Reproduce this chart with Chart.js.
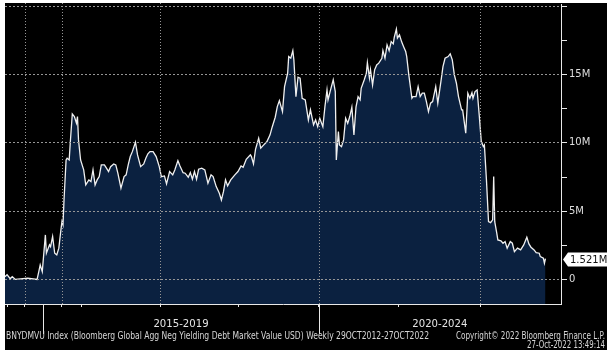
<!DOCTYPE html>
<html>
<head>
<meta charset="utf-8">
<script src="https://cdn.jsdelivr.net/npm/chart.js@4/dist/chart.umd.min.js"></script>
<style>
html,body{margin:0;padding:0;background:#fff;}
canvas{display:block;}
</style>
</head>
<body>
<canvas id="c" width="614" height="357"></canvas>
<script>
// Week index since 29-Oct-2012 (position along the time axis)
const weeks = [0,2,5,7,10,22,31,33,34,36,39,40,43,44,46,48,50,52,54,55,56,57,59,60,62,63,65,67,69,70,71,73,76,78,81,83,85,87,89,91,93,96,98,100,102,105,107,109,112,115,117,119,121,123,126,128,131,134,136,138,140,143,146,149,151,154,156,159,162,164,167,169,172,174,177,179,181,183,185,187,190,193,196,199,201,204,207,209,211,213,215,218,222,225,228,230,233,237,238,240,242,245,247,249,253,256,258,261,263,265,268,270,273,274,276,278,279,281,283,285,287,290,291,293,295,297,298,300,302,304,307,309,311,312,314,317,319,320,322,323,325,327,329,331,333,335,337,339,341,343,344,347,349,350,352,353,355,357,359,361,364,365,367,369,371,373,375,376,378,379,381,383,385,387,388,390,393,394,397,399,401,403,405,407,409,411,413,416,418,421,423,425,428,430,432,434,436,438,441,442,445,447,449,451,452,454,456,458,460,462,463,465,467,469,471,472,473,475,476,479,481,483,485,488,490,492,495,498,501,504,506,508,511,513,516,517,520,521,522];
// Market value, USD (millions as shown on the axis, "M")
const values = [0.2,0.35,0.05,0.2,0,0.1,0,0.7,1.06,0.57,3.26,1.92,2.53,2.4,3.14,1.92,1.8,2.29,3.63,4.24,4.0,5.82,8.75,8.88,8.75,9.98,12.12,11.93,11.44,11.93,10.22,8.75,8.02,6.92,7.29,7.17,8.02,6.92,7.29,7.53,8.39,8.39,8.15,7.9,8.26,8.46,8.39,7.78,6.68,7.53,7.66,8.39,9.0,9.36,10.05,9.12,8.26,8.46,8.88,9.2,9.36,9.36,9.0,8.26,7.53,7.58,7.0,7.9,7.66,8.02,8.7,8.31,7.82,7.78,7.49,7.82,7.34,7.9,7.34,8.07,8.15,8.02,7.05,7.66,7.53,6.8,6.31,5.82,6.43,7.29,6.85,7.29,7.66,7.9,8.31,8.22,8.8,9.12,9.0,8.46,9.54,10.34,9.61,9.78,10.1,10.59,11.15,11.88,12.66,13.1,12.29,14.12,15.1,16.32,16.2,16.76,16.08,13.39,14.81,14.74,13.27,13.15,12.66,11.68,12.42,11.68,11.32,11.68,11.19,11.81,11.19,12.66,13.88,13.15,13.76,14.62,13.76,8.75,10.83,9.85,9.73,10.22,11.81,11.44,11.93,12.62,10.59,12.62,13.39,13.15,14.0,14.62,15.1,15.88,14.74,15.35,14.25,15.35,15.71,15.84,16.2,16.76,16.2,17.18,16.76,17.42,17.25,17.74,18.33,17.67,17.91,17.42,17.05,16.69,16.32,14.98,13.27,13.39,13.39,14.12,13.39,13.64,13.64,13.03,12.29,12.91,13.03,14.12,12.91,14.49,15.59,16.2,16.32,16.52,16.08,14.98,14.37,13.39,12.42,12.42,10.71,13.64,13.27,13.68,13.27,13.76,13.88,12.05,10.1,9.73,9.85,7.29,4.23,4.16,4.36,7.53,4.23,3.38,2.89,2.82,2.65,2.77,2.29,2.77,2.65,2.04,2.29,2.16,2.53,3.09,2.6,2.36,2.16,1.96,1.92,1.67,1.55,1.19,1.521];
const lastValueLabel = '1.521M';

const xTickWeeks = [2,19,37,55,74,150,226,303,380,459];
const xGridWeeks = [19,55,150,303,459];
const groupBreaks = [37,303];
const groupLabels = ['2015-2019','2020-2024'];
const xMin = 0, xMax = 537;

const yTickValues = [0,2.5,5,7.5,10,12.5,15,17.5,20];
const yTickLabels = ['0','','5M','','10M','','15M','',''];
const yGridValues = [0,5,10,15,20];
const yMin = -1.8, yMax = 20.1;

const footerLeft = 'BNYDMVU Index (Bloomberg Global Agg Neg Yielding Debt Market Value USD) Weekly 29OCT2012-27OCT2022';
const footerRight = 'Copyright\u00A9 2022 Bloomberg Finance L.P.';
const footerDate = '27-Oct-2022 13:49:14';

const GRID = 'rgb(150,150,150)';
const FONT = '"DejaVu Sans", sans-serif';

function fitText(ctx, text, x, y, targetW, align, size, color) {
  ctx.save();
  ctx.font = size + 'px ' + FONT;
  ctx.fillStyle = color;
  ctx.textBaseline = 'middle';
  ctx.textAlign = align;
  const w = ctx.measureText(text).width;
  ctx.translate(x, y);
  ctx.scale(targetW / w, 1);
  ctx.fillText(text, 0, 0);
  ctx.restore();
}

const decor = {
  id: 'decor',
  beforeDraw(chart) {
    const ctx = chart.ctx;
    ctx.save();
    ctx.fillStyle = '#ffffff';
    ctx.fillRect(0, 0, chart.width, chart.height);
    ctx.fillStyle = '#000000';
    ctx.fillRect(5, 3, 602, 347);
    ctx.restore();
  },
  afterDatasetsDraw(chart) {
    const ctx = chart.ctx;
    const xs = chart.scales.x, ys = chart.scales.y;
    const area = chart.chartArea;
    ctx.save();
    ctx.fillStyle = GRID;
    yGridValues.forEach(v => {
      const py = Math.floor(ys.getPixelForValue(v));
      for (let x = Math.round(area.left); x < area.right - 1; x += 4) {
        ctx.fillRect(x, py, 2, 1);
      }
    });
    xGridWeeks.forEach(w => {
      const px = Math.round(xs.getPixelForValue(w));
      for (let y = 3; y < area.bottom; y += 3) {
        ctx.fillRect(px, y, 1, 1);
      }
    });
    ctx.restore();
  },
  afterDraw(chart) {
    const ctx = chart.ctx;
    const xs = chart.scales.x, ys = chart.scales.y;
    const area = chart.chartArea;
    ctx.save();
    // axis lines
    ctx.strokeStyle = '#e8e8e8';
    ctx.lineWidth = 1;
    ctx.beginPath();
    ctx.moveTo(area.left, Math.round(area.bottom) + 0.5);
    ctx.lineTo(area.right + 1, Math.round(area.bottom) + 0.5);
    ctx.moveTo(Math.round(area.right) + 0.5, 4);
    ctx.lineTo(Math.round(area.right) + 0.5, area.bottom + 1);
    ctx.stroke();
    // group separators
    groupBreaks.forEach(b => {
      const px = Math.round(xs.getPixelForValue(b)) + 0.5;
      ctx.beginPath();
      ctx.moveTo(px, area.bottom);
      ctx.lineTo(px, area.bottom + 30);
      ctx.stroke();
    });
    // group labels
    ctx.font = '11px ' + FONT;
    ctx.fillStyle = '#e4e4e4';
    ctx.textAlign = 'center';
    ctx.textBaseline = 'middle';
    const edges = groupBreaks.concat([xMax]);
    groupLabels.forEach((lab, i) => {
      const a = xs.getPixelForValue(edges[i]);
      const b = xs.getPixelForValue(edges[i + 1]);
      ctx.save();
      ctx.translate((a + b) / 2, 324);
      ctx.scale(0.92, 1);
      ctx.fillText(lab, 0, 0);
      ctx.restore();
    });
    ctx.restore();
    // footers
    fitText(ctx, footerLeft, 6, 336, 423, 'left', 10, '#d6d6d6');
    fitText(ctx, footerRight, 605, 336, 149, 'right', 10, '#d6d6d6');
    fitText(ctx, footerDate, 605, 345, 78, 'right', 10, '#d6d6d6');
    // last value tag
    const lv = values[values.length - 1];
    const py = Math.round(ys.getPixelForValue(lv)) + 0.5;
    const x0 = area.right + 2;
    ctx.save();
    ctx.fillStyle = '#ffffff';
    ctx.beginPath();
    ctx.moveTo(x0, py);
    ctx.lineTo(x0 + 5, py - 7);
    ctx.lineTo(607, py - 7);
    ctx.lineTo(607, py + 7);
    ctx.lineTo(x0 + 5, py + 7);
    ctx.closePath();
    ctx.fill();
    ctx.fillStyle = '#111111';
    ctx.font = '10px ' + FONT;
    ctx.textAlign = 'left';
    ctx.textBaseline = 'middle';
    ctx.fillText(lastValueLabel, x0 + 7, py + 0.5);
    ctx.restore();
  }
};

new Chart(document.getElementById('c'), {
  type: 'line',
  data: {
    datasets: [{
      data: weeks.map((w, i) => ({x: w, y: values[i]})),
      borderColor: '#f0f0f0',
      borderWidth: 1.3,
      backgroundColor: '#0b2140',
      fill: 'start',
      pointRadius: 0,
      tension: 0
    }]
  },
  options: {
    responsive: false,
    animation: false,
    devicePixelRatio: 1,
    layout: {padding: {left: 5, top: 5, right: 0, bottom: 0}},
    plugins: {legend: {display: false}, tooltip: {enabled: false}},
    scales: {
      x: {
        type: 'linear',
        min: xMin,
        max: xMax,
        afterBuildTicks: s => { s.ticks = xTickWeeks.map(v => ({value: v})); },
        afterFit: s => { s.height = 53; s.paddingLeft = 0; s.paddingRight = 0; },
        ticks: {autoSkip: false, callback: () => '', padding: 0, maxRotation: 0},
        grid: {
          display: true,
          drawOnChartArea: false,
          drawTicks: true,
          tickLength: 3,
          tickColor: '#e8e8e8',
          color: 'rgba(0,0,0,0)'
        },
        border: {display: false}
      },
      y: {
        type: 'linear',
        position: 'right',
        min: yMin,
        max: yMax,
        afterBuildTicks: s => { s.ticks = yTickValues.map(v => ({value: v})); },
        afterFit: s => { s.width = 53; s.paddingTop = 0; s.paddingBottom = 0; },
        ticks: {
          autoSkip: false,
          padding: 2,
          color: '#dedede',
          font: {family: 'DejaVu Sans', size: 10},
          callback: (v, i) => yTickLabels[i]
        },
        grid: {
          display: true,
          drawOnChartArea: false,
          drawTicks: true,
          tickLength: 6,
          tickColor: '#e8e8e8',
          color: 'rgba(0,0,0,0)'
        },
        border: {display: false}
      }
    }
  },
  plugins: [decor]
});
</script>
</body>
</html>
